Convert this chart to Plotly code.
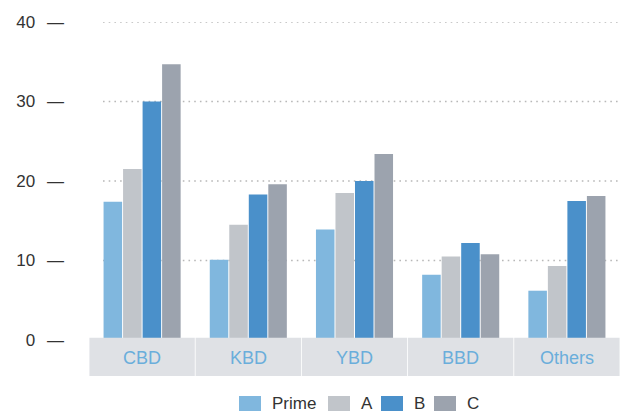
import plotly.graph_objects as go

categories = ["CBD", "KBD", "YBD", "BBD", "Others"]
series_names = ["Prime", "A", "B", "C"]
prime = [17.4, 10.1, 13.9, 8.2, 6.2]
grade_a = [21.5, 14.5, 18.5, 10.5, 9.3]
grade_b = [30.0, 18.3, 20.0, 12.2, 17.5]
grade_c = [34.7, 19.6, 23.4, 10.8, 18.1]
y_ticks = [0, 10, 20, 30, 40]

series_values = [prime, grade_a, grade_b, grade_c]
colors = ["#80b7de", "#c1c5ca", "#4a90ca", "#9ca3ae"]

W, H = 620, 414
ML, MR, MT, MB = 89, 0, 22, 74
PW, PH = W - ML - MR, H - MT - MB


def px_x(px):
    return (px - ML) / PW


def px_y(py):
    return (H - MB - py) / PH


FONT = "Liberation Sans, Arial, sans-serif"

fig = go.Figure()
for name, vals, col in zip(series_names, series_values, colors):
    fig.add_trace(go.Bar(x=categories, y=vals, name=name, marker_color=col,
                         marker_line_width=0, showlegend=False))

shapes = []
# dotted gridlines
for t in y_ticks[1:]:
    shapes.append(dict(type="line", xref="paper", yref="y", x0=px_x(103), x1=1,
                       y0=t, y1=t, layer="below",
                       line=dict(color="#b8b8b8", width=1.5, dash="1.6px,4.1px")))
# category boxes
annotations = []
for i, c in enumerate(categories):
    shapes.append(dict(type="rect", xref="x", yref="paper",
                       x0=i - 0.5 + 0.004, x1=i + 0.5 - 0.004,
                       y0=px_y(376), y1=px_y(337.7), layer="above",
                       fillcolor="#dfe1e5", line_width=0))
    annotations.append(dict(x=c, y=px_y(357.5), xref="x", yref="paper",
                            text=c, showarrow=False,
                            font=dict(family=FONT, size=18, color="#6aaedb"),
                            xanchor="center", yanchor="middle"))

# custom legend
sw_x = [239, 328, 381, 434]
for name, col, sx in zip(series_names, colors, sw_x):
    shapes.append(dict(type="rect", xref="paper", yref="paper",
                       x0=px_x(sx), x1=px_x(sx + 22), y0=px_y(411), y1=px_y(396),
                       fillcolor=col, line_width=0))
    annotations.append(dict(x=px_x(sx + 31), y=px_y(403.5), xref="paper", yref="paper",
                            text=name, showarrow=False, xanchor="left", yanchor="middle",
                            font=dict(family=FONT, size=17, color="#333333")))

fig.update_layout(
    width=W, height=H,
    margin=dict(l=ML, r=MR, t=MT, b=MB),
    paper_bgcolor="white", plot_bgcolor="white",
    barmode="group", bargap=0.265, bargroupgap=0.05,
    shapes=shapes, annotations=annotations,
    xaxis=dict(showticklabels=False, showgrid=False, zeroline=False,
               showline=False, ticks="", range=[-0.5, len(categories) - 0.5]),
    yaxis=dict(range=[0, 40], tickvals=y_ticks,
               ticktext=[f"{t}\u2002\u2009\u2014" for t in y_ticks],
               showgrid=False, zeroline=False, showline=False, ticks="",
               ticklabelstandoff=24,
               tickfont=dict(family=FONT, size=17, color="#333333")),
    showlegend=False,
)

fig.write_html("out.html")
